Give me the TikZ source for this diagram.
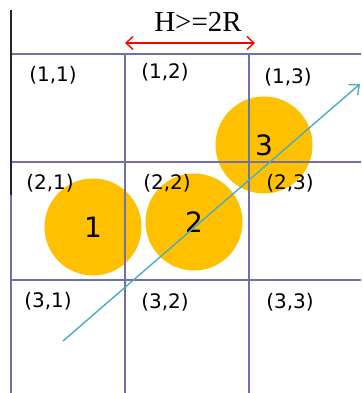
\documentclass[tikz,border=0pt]{standalone}
\usepackage{fontspec}
\setmainfont{Liberation Serif}
\newfontfamily\cellfont{DejaVu Sans}
\usepackage{xcolor}
\usetikzlibrary{arrows.meta}

\definecolor{gridpurple}{RGB}{112,112,170}
\definecolor{ballgold}{RGB}{255,192,0}
\definecolor{pathblue}{RGB}{75,172,198}

\begin{document}
\begin{tikzpicture}[
    x=1pt,
    y=-1pt,
    gridline/.style={draw=gridpurple,line width=1.4pt},
    ball/.style={circle,fill=ballgold,minimum size=97pt,inner sep=0pt,
        font=\cellfont\fontsize{28}{30}\selectfont},
    celllabel/.style={font=\cellfont\fontsize{20}{23}\selectfont},
    track/.style={draw=pathblue,line width=1.4pt,-{Straight Barb[length=8pt,width=14pt]}},
    spacing/.style={draw=red,line width=1.4pt,{Straight Barb[length=7pt,width=13pt]}-{Straight Barb[length=7pt,width=13pt]}}
]
\useasboundingbox (0,0) rectangle (361,393);

% Balls under the grid.
\node[ball] (b1) at (93,227) {1};
\node[ball] (b2) at (194,222) {2};
\node[ball] (b3) at (264,145) {3};

% Grid.
\draw[gridline] (11,54) -- (361,54);
\draw[gridline] (11,162) -- (361,162);
\draw[gridline] (11,280) -- (361,280);
\draw[gridline] (11,54) -- (11,393);
\draw[gridline] (125,54) -- (125,393);
\draw[gridline] (249,54) -- (249,393);
\draw[black!85,line width=1.4pt] (11,10) -- (11,195);

% Cell labels.
\node[celllabel] (c11) at (53,75) {(1,1)};
\node[celllabel] (c12) at (165,72) {(1,2)};
\node[celllabel] (c13) at (288,77) {(1,3)};
\node[celllabel] (c21) at (50,183) {(2,1)};
\node[celllabel] (c22) at (167,183) {(2,2)};
\node[celllabel] (c23) at (290,183) {(2,3)};
\node[celllabel] (c31) at (48,301) {(3,1)};
\node[celllabel] (c32) at (165,302) {(3,2)};
\node[celllabel] (c33) at (290,302) {(3,3)};

% Spacing between the grid lines.
\coordinate (sl) at (125,43);
\coordinate (sr) at (255,43);
\draw[spacing] (sl) -- (sr);
\node[font=\fontsize{29}{31}\selectfont] (hlabel) at (198,22) {H>=2R};

% Track through the balls.
\coordinate (ts) at (63,341);
\coordinate (te) at (360,84);
\draw[track] (ts) -- (te);

\end{tikzpicture}
\end{document}
